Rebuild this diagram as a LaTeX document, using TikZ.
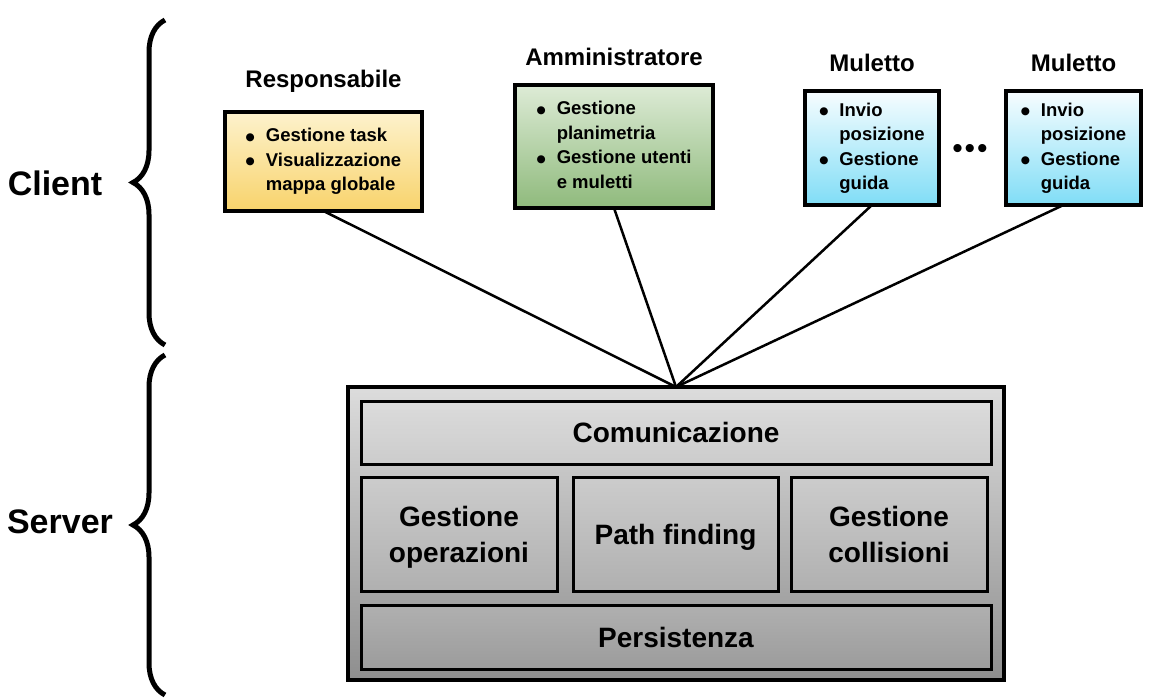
\documentclass[tikz,border=0pt]{standalone}
\usepackage{fontspec}
\setmainfont{Liberation Sans}
\newfontfamily\symfont{DejaVu Sans}
\usepackage{tikz}
\usetikzlibrary{positioning,decorations.pathreplacing}

\definecolor{respTop}{HTML}{FDF2CD}
\definecolor{respBot}{HTML}{F8D36B}
\definecolor{ammTop}{HTML}{DDEBD6}
\definecolor{ammBot}{HTML}{8FBA7C}
\definecolor{mulTop}{HTML}{F7FDFF}
\definecolor{mulBot}{HTML}{80DDF6}
\definecolor{srvTop}{HTML}{DCDCDC}
\definecolor{srvBot}{HTML}{8E8E8E}

\newcommand{\bul}{\raisebox{1.5pt}{\symfont\fontsize{10.5}{0}\selectfont ●}}
\newcommand{\blist}[1]{\begin{tabular}{@{}l@{\hspace{11pt}}l@{}}#1\end{tabular}}

\tikzset{
  client/.style={draw=black, line width=4pt, outer sep=0pt, inner sep=0pt,
    font=\fontsize{18.5}{24.5}\selectfont\bfseries},
  role/.style={inner sep=0pt, font=\fontsize{24}{28}\selectfont\bfseries},
  module/.style={draw=black, line width=3pt, outer sep=0pt, align=center, text depth=0pt,
    font=\fontsize{28}{36}\selectfont\bfseries},
  side/.style={font=\fontsize{34}{40}\selectfont\bfseries},
  curly/.style={decorate, decoration={brace, amplitude=32pt, aspect=0.5}, line width=5pt},
}

\begin{document}
\begin{tikzpicture}[x=1pt, y=-1pt, node distance=19.5pt]
        \useasboundingbox (0,0) rectangle (1156,700);

        % client side
        \node[client, top color=respTop, bottom color=respBot, minimum width=197pt, minimum height=99pt] (resp) at (323.5,161.5)
          {\blist{\bul & Gestione task\\ \bul & Visualizzazione\\ & mappa globale}};
        \node[client, top color=ammTop, bottom color=ammBot, minimum width=198pt, minimum height=123pt] (amm) at (614,146.5)
          {\blist{\bul & Gestione\\ & planimetria\\ \bul & Gestione utenti\\ & e muletti}};
        \node[client, top color=mulTop, bottom color=mulBot, minimum width=134pt, minimum height=114pt] (mul1) at (872,148)
          {\blist{\bul & Invio\\ & posizione\\ \bul & Gestione\\ & guida}};
        \node[client, top color=mulTop, bottom color=mulBot, minimum width=135pt, minimum height=114pt] (mul2) at (1073.5,148)
          {\blist{\bul & Invio\\ & posizione\\ \bul & Gestione\\ & guida}};
        \node[font=\fontsize{30}{30}\selectfont] (dots) at (970,152) {\textbullet\hspace{2pt}\textbullet\hspace{2pt}\textbullet};

        \node[role, above=of resp] (respl) {Responsabile};
        \node[role, above=of amm] (amml) {Amministratore};
        \node[role, above=of mul1] (mul1l) {Muletto};
        \node[role, above=of mul2] (mul2l) {Muletto};

        % server side
        \node[draw=black, line width=4pt, outer sep=0pt, top color=srvTop, bottom color=srvBot,
          minimum width=656pt, minimum height=293pt] (server) at (676,533.5) {};
        \node[module, top color=gray!28, bottom color=gray!40, minimum width=630pt, minimum height=63pt] (comm) at (676,432.5) {Comunicazione};
        \node[module, top color=gray!40, bottom color=gray!62, minimum width=196pt, minimum height=114pt] (oper) at (459,534) {Gestione\\operazioni};
        \node[module, top color=gray!40, bottom color=gray!62, minimum width=205pt, minimum height=114pt] (path) at (675.5,534) {Path finding};
        \node[module, top color=gray!40, bottom color=gray!62, minimum width=196pt, minimum height=114pt] (coll) at (889,534) {Gestione\\collisioni};
        \node[module, top color=gray!62, bottom color=gray!78, minimum width=630pt, minimum height=64pt] (pers) at (676,637) {Persistenza};

        % connections
        \draw[line width=2.5pt] (resp.south) -- (server.north);
        \draw[line width=2.5pt] (amm.south) -- (server.north);
        \draw[line width=2.5pt] (mul1.south) -- (server.north);
        \draw[line width=2.5pt] ([xshift=-10pt]mul2.south) -- (server.north);

        % braces
        \draw[curly] (165,345) -- (165,20);
        \draw[curly] (165,695) -- (165,355);
        \node[side] (client) at (55,183) {Client};
        \node[side] (srv) at (60,522) {Server};
\end{tikzpicture}
\end{document}
